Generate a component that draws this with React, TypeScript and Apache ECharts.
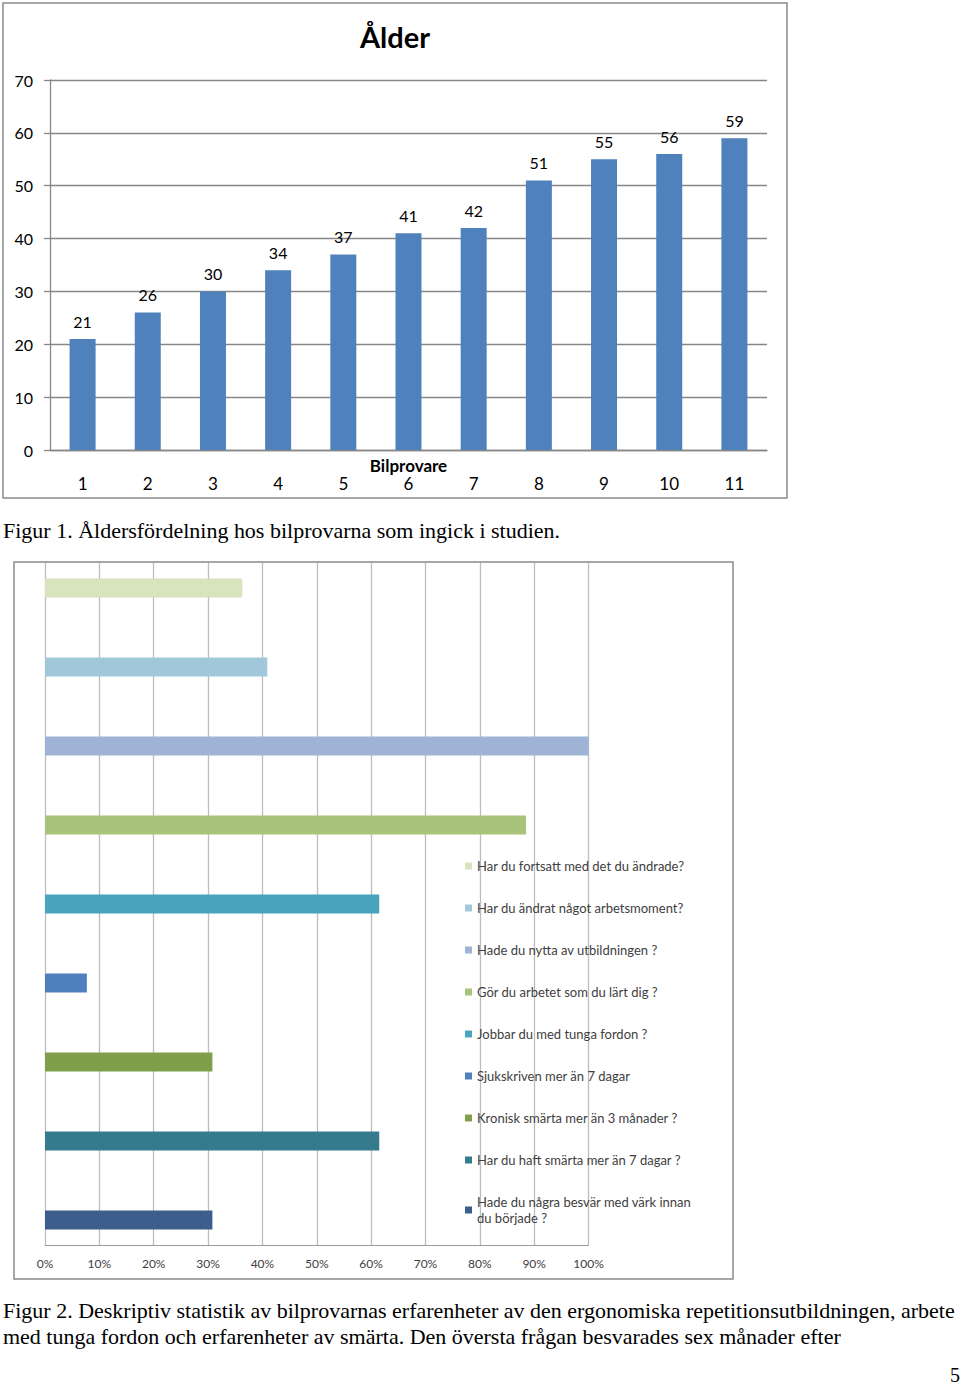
import React, { useEffect, useRef } from "react";
import * as echarts from "echarts";

// ---- Figure 1 data ----
const ageCategories = ["1", "2", "3", "4", "5", "6", "7", "8", "9", "10", "11"];
const ages = [21, 26, 30, 34, 37, 41, 42, 51, 55, 56, 59];
const ageTitle = "Ålder";
const ageAxisName = "Bilprovare";

// ---- Figure 2 data ----
const questions = [
  "Har du fortsatt med det du ändrade?",
  "Har du ändrat något arbetsmoment?",
  "Hade du nytta av utbildningen ?",
  "Gör du arbetet som du lärt dig ?",
  "Jobbar du med tunga fordon ?",
  "Sjukskriven mer än 7 dagar",
  "Kronisk smärta mer än 3 månader ?",
  "Har du haft smärta mer än 7 dagar ?",
  "Hade du några besvär med värk innan du började ?",
];
const shares = [36.3, 40.9, 100, 88.5, 61.5, 7.7, 30.8, 61.5, 30.8];
const questionColors = [
  "#d7e4bd",
  "#a0c8da",
  "#9eb3d5",
  "#aac37c",
  "#4aa4be",
  "#4f80bd",
  "#809f4a",
  "#357b8d",
  "#3b5e8d",
];

const caption1 = "Figur 1. Åldersfördelning hos bilprovarna som ingick i studien.";
const caption2a =
  "Figur 2. Deskriptiv statistik av bilprovarnas erfarenheter av den ergonomiska repetitionsutbildningen, arbete";
const caption2b =
  "med tunga fordon och erfarenheter av smärta. Den översta frågan besvarades sex månader efter";
const pageNumber = "5";

const SANS = "Lato, 'Noto Sans', sans-serif";
const SERIF = "'Liberation Serif', 'DejaVu Serif', serif";

export default function App() {
  const ref = useRef<HTMLDivElement>(null);

  useEffect(() => {
    if (!ref.current) return;
    const chart = echarts.init(ref.current, undefined, { renderer: "svg" });

    const lastQ = questions[questions.length - 1];

    const captionText = (text: string, x: number, y: number) => ({
      type: "text",
      x,
      y,
      scaleX: 1.1,
      style: {
        text,
        fontFamily: SERIF,
        fontSize: 20,
        fill: "#000",
        textAlign: "left",
        textVerticalAlign: "middle",
      },
    });

    const option: any = {
      animation: false,
      backgroundColor: "#ffffff",
      grid: [
        { left: 50, right: 193, top: 80, bottom: 935, containLabel: false },
        { left: 45, right: 371.5, top: 563, bottom: 140, containLabel: false },
      ],
      xAxis: [
        {
          type: "category",
          gridIndex: 0,
          data: ageCategories,
          axisLine: { show: true, lineStyle: { color: "#878787", width: 1.3 } },
          axisTick: { show: false },
          axisLabel: {
            margin: 25,
            fontFamily: SANS,
            fontSize: 17,
            color: "#000",
          },
        },
        {
          type: "value",
          gridIndex: 1,
          min: 0,
          max: 100,
          interval: 10,
          axisLine: { show: true, lineStyle: { color: "#9a9a9a", width: 1 } },
          axisTick: { show: false },
          splitLine: { show: true, lineStyle: { color: "#bdbdbd", width: 1.3 } },
          axisLabel: {
            margin: 12,
            fontFamily: SANS,
            fontSize: 12,
            color: "#404040",
            formatter: (v: number) => `${v}%`,
          },
        },
      ],
      yAxis: [
        {
          type: "value",
          gridIndex: 0,
          min: 0,
          max: 70,
          interval: 10,
          axisLine: { show: true, lineStyle: { color: "#878787", width: 1.3 } },
          axisTick: { show: true, length: 6, lineStyle: { color: "#878787", width: 1.3 } },
          splitLine: { show: true, lineStyle: { color: "#878787", width: 1.3 } },
          axisLabel: {
            margin: 17,
            fontFamily: SANS,
            fontSize: 16,
            color: "#000",
          },
        },
        {
          type: "category",
          gridIndex: 1,
          data: [""],
          inverse: true,
          axisLine: { show: false },
          axisTick: { show: false },
          axisLabel: { show: false },
          splitLine: { show: false },
        },
      ],
      legend: {
        data: questions,
        orient: "vertical",
        left: 460,
        top: 853,
        itemWidth: 7,
        itemHeight: 7,
        itemGap: 26,
        icon: "rect",
        selectedMode: false,
        textStyle: {
          fontFamily: SANS,
          fontSize: 13,
          color: "#404040",
          lineHeight: 16,
        },
        formatter: (name: string) =>
          name === lastQ ? "Hade du några besvär med värk innan\ndu började ?" : name,
      },
      series: [
        {
          type: "bar",
          name: ageTitle,
          xAxisIndex: 0,
          yAxisIndex: 0,
          data: ages,
          barWidth: 26,
          itemStyle: { color: "#4f81bd" },
          label: {
            show: true,
            position: "top",
            distance: 10,
            fontFamily: SANS,
            fontSize: 16,
            color: "#000",
          },
        },
        ...questions.map((q, i) => ({
          type: "bar",
          name: q,
          xAxisIndex: 1,
          yAxisIndex: 1,
          data: [shares[i]],
          barWidth: 19,
          barGap: "315.8%",
          itemStyle: { color: questionColors[i] },
        })),
      ],
      graphic: [
        {
          type: "rect",
          shape: { x: 3, y: 3, width: 784, height: 495 },
          style: { fill: "none", stroke: "#8a8a8a", lineWidth: 1.5 },
          z: 100,
        },
        {
          type: "rect",
          shape: { x: 14, y: 562, width: 719, height: 717 },
          style: { fill: "none", stroke: "#8a8a8a", lineWidth: 1.5 },
          z: 100,
        },
        {
          type: "text",
          x: 395,
          y: 36,
          style: {
            text: ageTitle,
            fontFamily: SANS,
            fontWeight: "bold",
            fontSize: 29,
            fill: "#000",
            textAlign: "center",
            textVerticalAlign: "middle",
          },
        },
        {
          type: "text",
          x: 408.5,
          y: 465,
          style: {
            text: ageAxisName,
            fontFamily: SANS,
            fontWeight: "bold",
            fontSize: 17,
            fill: "#000",
            textAlign: "center",
            textVerticalAlign: "middle",
          },
        },
        captionText(caption1, 3, 531),
        captionText(caption2a, 3, 1311),
        captionText(caption2b, 3, 1337),
        {
          type: "text",
          x: 955,
          y: 1375,
          style: {
            text: pageNumber,
            fontFamily: SERIF,
            fontSize: 20,
            fill: "#000",
            textAlign: "center",
            textVerticalAlign: "middle",
          },
        },
      ],
    };

    chart.setOption(option);
    return () => chart.dispose();
  }, []);

  return (
    <div
      ref={ref}
      style={{ position: "absolute", left: 0, top: 0, width: 960, height: 1385 }}
    />
  );
}
